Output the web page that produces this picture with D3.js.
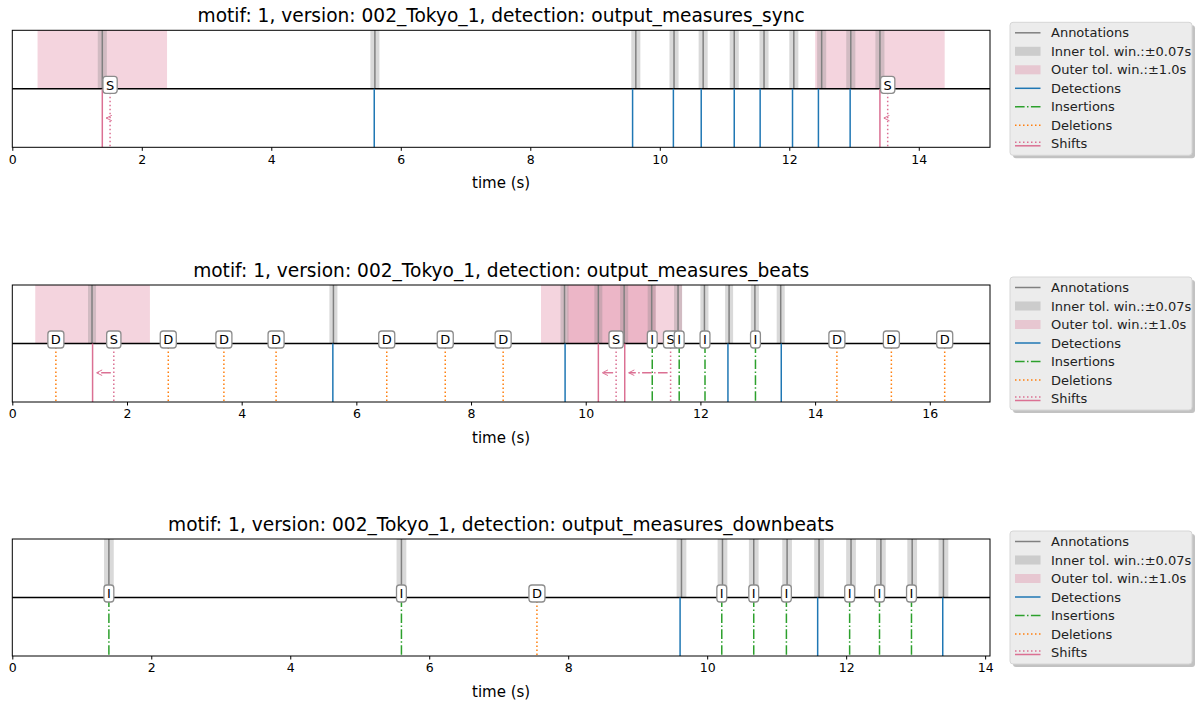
<!DOCTYPE html>
<html>
<head>
<meta charset="utf-8">
<script src="https://cdn.jsdelivr.net/npm/d3@7"></script>
<style>
  body { margin: 0; background: #fff; }
  svg { font-family: "DejaVu Sans", sans-serif; }
</style>
</head>
<body>
<div id="chart"></div>
<script>
// reference annotations (same for all three detections)
var annotations = [1.39, 5.60, 9.63, 10.22, 10.67, 11.15, 11.61, 12.07, 12.50, 12.95, 13.40];

// sync
var syncDetections = [5.59, 9.58, 10.21, 10.64, 11.15, 11.55, 12.05, 12.45, 12.94];
var syncInsertions = [];
var syncDeletions = [];
var syncShiftFrom = [1.51, 13.52];
var syncShiftTo = [1.39, 13.40];

// beats
var beatsDetections = [5.59, 9.64, 12.48, 13.41];
var beatsInsertions = [11.16, 11.63, 12.08, 12.96];
var beatsDeletions = [0.76, 2.72, 3.69, 4.60, 6.53, 7.55, 8.56, 14.38, 15.33, 16.26];
var beatsShiftFrom = [1.77, 10.53, 11.48];
var beatsShiftTo = [1.40, 10.22, 10.68];

// downbeats
var downDetections = [9.61, 11.59, 13.39];
var downInsertions = [1.39, 5.60, 10.21, 10.67, 11.14, 12.05, 12.48, 12.94];
var downDeletions = [7.55];
var downShiftFrom = [];
var downShiftTo = [];

var detectionNames = ["output_measures_sync", "output_measures_beats", "output_measures_downbeats"];
var xMax = [15.1, 17.05, 14.07];
var innerTol = 0.07;
var outerTol = 1.0;
var legendLabels = ["Annotations", "Inner tol. win.:\u00b10.07s", "Outer tol. win.:\u00b11.0s",
  "Detections", "Insertions", "Deletions", "Shifts"];

var panels = [
  {det: syncDetections, ins: syncInsertions, del: syncDeletions, from: syncShiftFrom, to: syncShiftTo},
  {det: beatsDetections, ins: beatsInsertions, del: beatsDeletions, from: beatsShiftFrom, to: beatsShiftTo},
  {det: downDetections, ins: downInsertions, del: downDeletions, from: downShiftFrom, to: downShiftTo}
];

var width = 1196, height = 702;
var left = 12.3, right = 990;
var tops = [30.3, 285, 539];
var axH = 117;

var colors = {
  ann: "#808080",
  det: "#1f77b4",
  ins: "#2ca02c",
  del: "#ff7f0e",
  shift: "#db7093"
};
var dotted = "1.5,2.5";
var dashdot = "9.6,2.4,1.5,2.4";

var svg = d3.select("#chart").append("svg")
    .attr("width", width)
    .attr("height", height);

svg.append("defs").append("marker")
    .attr("id", "arrowHead")
    .attr("viewBox", "0 0 10 10")
    .attr("refX", 9).attr("refY", 5)
    .attr("markerWidth", 7).attr("markerHeight", 7)
    .attr("markerUnits", "userSpaceOnUse")
    .attr("orient", "auto")
  .append("path")
    .attr("d", "M1,1 L9,5 L1,9")
    .attr("fill", "none")
    .attr("stroke", colors.shift)
    .attr("stroke-width", 1.4);

panels.forEach(function(p, i) {
  var top = tops[i];
  var mid = top + axH / 2;
  var bottom = top + axH;

  var x = d3.scaleLinear().domain([0, xMax[i]]).range([left, right]);
  var g = svg.append("g");

  g.append("text")
      .attr("x", (left + right) / 2)
      .attr("y", top - 8.5)
      .attr("text-anchor", "middle")
      .style("font-size", "18.6px")
      .text("motif: 1, version: 002_Tokyo_1, detection: " + detectionNames[i]);

  // outer tolerance windows around shifted annotations
  g.selectAll(".outer").data(p.to).enter().append("rect")
      .attr("x", function(d) { return x(d - outerTol); })
      .attr("width", function(d) { return x(d + outerTol) - x(d - outerTol); })
      .attr("y", top).attr("height", mid - top)
      .attr("fill", colors.shift).attr("fill-opacity", 0.3);

  // inner tolerance windows
  g.selectAll(".inner").data(annotations).enter().append("rect")
      .attr("x", function(d) { return x(d - innerTol); })
      .attr("width", function(d) { return x(d + innerTol) - x(d - innerTol); })
      .attr("y", top).attr("height", mid - top)
      .attr("fill", "#808080").attr("fill-opacity", 0.3);

  g.selectAll(".ann").data(annotations).enter().append("line")
      .attr("x1", function(d) { return x(d); }).attr("x2", function(d) { return x(d); })
      .attr("y1", top).attr("y2", mid)
      .attr("stroke", colors.ann).attr("stroke-width", 1.5);

  g.append("line")
      .attr("x1", left).attr("x2", right)
      .attr("y1", mid).attr("y2", mid)
      .attr("stroke", "#000").attr("stroke-width", 1.5);

  function vlines(data, color, dash) {
    g.selectAll(null).data(data).enter().append("line")
        .attr("x1", function(d) { return x(d); }).attr("x2", function(d) { return x(d); })
        .attr("y1", mid).attr("y2", bottom)
        .attr("stroke", color).attr("stroke-width", 1.5)
        .attr("stroke-dasharray", dash);
  }
  vlines(p.det, colors.det, null);
  vlines(p.ins, colors.ins, dashdot);
  vlines(p.del, colors.del, dotted);
  vlines(p.to, colors.shift, null);
  vlines(p.from, colors.shift, dotted);

  // shift arrows: from detection to annotation
  var arrowY = mid + (bottom - mid) / 2;
  g.selectAll(".arrow").data(p.from).enter().append("line")
      .attr("x1", function(d) { return x(d) - 3; })
      .attr("x2", function(d, j) { return x(p.to[j]) + 4; })
      .attr("y1", arrowY).attr("y2", arrowY)
      .attr("stroke", colors.shift).attr("stroke-width", 1.4)
      .attr("stroke-dasharray", dashdot)
      .attr("marker-end", "url(#arrowHead)");

  // labels
  var labels = [];
  p.del.forEach(function(d) { labels.push({t: d, s: "D"}); });
  p.from.forEach(function(d) { labels.push({t: d, s: "S"}); });
  p.ins.forEach(function(d) { labels.push({t: d, s: "I"}); });
  labels.sort(function(a, b) { return a.t - b.t; });

  var lab = g.selectAll(".lab").data(labels).enter().append("g");
  var rects = lab.append("rect");
  var texts = lab.append("text")
      .attr("x", function(d) { return x(d.t); })
      .attr("y", mid + 0.8)
      .attr("text-anchor", "middle")
      .style("font-size", "13px")
      .text(function(d) { return d.s; });
  texts.each(function(d) { d.w = this.getComputedTextLength(); });
  rects
      .attr("x", function(d) { return x(d.t) - d.w / 2 - 3; })
      .attr("width", function(d) { return d.w + 6; })
      .attr("y", mid - 12.5).attr("height", 17)
      .attr("rx", 3)
      .attr("fill", "#fff").attr("stroke", "#8c8c8c").attr("stroke-width", 1.3);

  // frame
  g.append("rect")
      .attr("x", left).attr("y", top)
      .attr("width", right - left).attr("height", axH)
      .attr("fill", "none").attr("stroke", "#000").attr("stroke-width", 1);

  var ticks = d3.range(0, xMax[i], 2);
  var axis = g.append("g")
      .attr("transform", "translate(0," + bottom + ")")
      .call(d3.axisBottom(x).tickValues(ticks).tickFormat(d3.format("d")).tickSize(3.5).tickPadding(4));
  axis.select(".domain").remove();
  axis.selectAll("text").style("font-size", "12.5px").attr("fill", "#000")
      .style("font-family", "DejaVu Sans");
  axis.selectAll("line").attr("stroke", "#000");

  g.append("text")
      .attr("x", (left + right) / 2)
      .attr("y", bottom + 41)
      .attr("text-anchor", "middle")
      .style("font-size", "15px")
      .text("time (s)");

  // legend
  var lg = g.append("g").attr("transform", "translate(1010," + (top - 8) + ")");
  lg.append("rect")
      .attr("x", 3).attr("y", 3).attr("width", 182).attr("height", 133)
      .attr("rx", 3).attr("fill", "#999").attr("fill-opacity", 0.6);
  lg.append("rect")
      .attr("x", 0).attr("y", 0).attr("width", 182).attr("height", 133)
      .attr("rx", 3).attr("fill", "#ececec").attr("stroke", "#d6d6d6");

  legendLabels.forEach(function(name, k) {
    var y = 10.5 + k * 18.5;
    var hx1 = 5, hx2 = 30.5;
    if (k === 1 || k === 2) {
      lg.append("rect").attr("x", hx1).attr("y", y - 4.5).attr("width", hx2 - hx1).attr("height", 9)
          .attr("fill", k === 1 ? "#808080" : colors.shift).attr("fill-opacity", 0.3);
    } else if (k === 6) {
      lg.append("line").attr("x1", hx1).attr("x2", hx2).attr("y1", y + 2).attr("y2", y + 2)
          .attr("stroke", colors.shift).attr("stroke-width", 1.5);
      lg.append("line").attr("x1", hx1).attr("x2", hx2).attr("y1", y - 1.5).attr("y2", y - 1.5)
          .attr("stroke", colors.shift).attr("stroke-width", 1.5).attr("stroke-dasharray", dotted);
    } else {
      var c = [colors.ann, null, null, colors.det, colors.ins, colors.del][k];
      var dash = [null, null, null, null, dashdot, dotted][k];
      lg.append("line").attr("x1", hx1).attr("x2", hx2).attr("y1", y).attr("y2", y)
          .attr("stroke", c).attr("stroke-width", 1.5).attr("stroke-dasharray", dash);
    }
    lg.append("text")
        .attr("x", 41).attr("y", y + 4.7)
        .style("font-size", "13px")
        .attr("fill", "#222")
        .text(name);
  });
});
</script>
</body>
</html>
